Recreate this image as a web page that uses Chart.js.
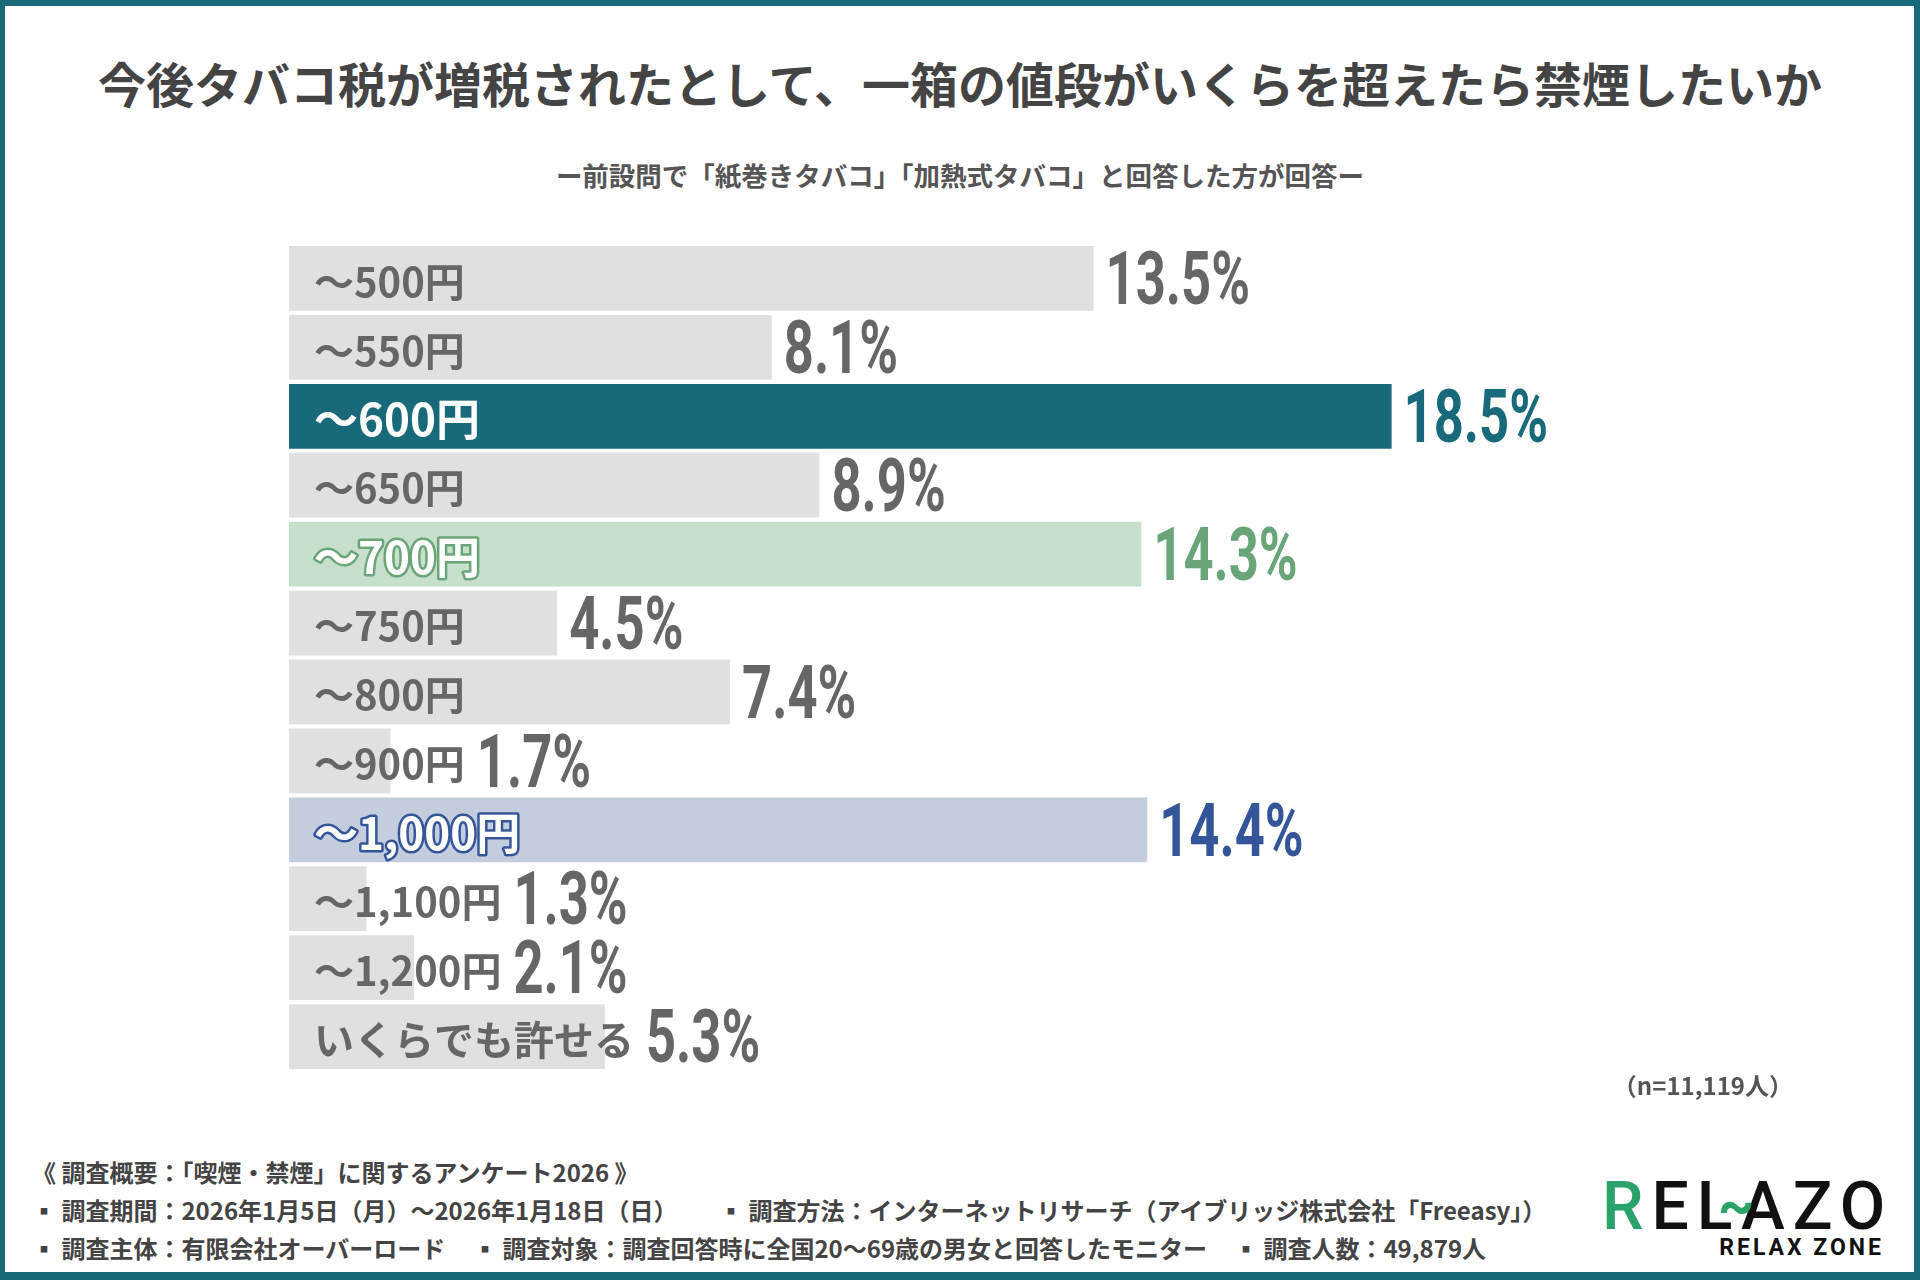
<!DOCTYPE html>
<html lang="ja">
<head>
<meta charset="utf-8">
<title>タバコ税 増税と禁煙</title>
<script src="https://cdn.jsdelivr.net/npm/chart.js@4.4.1/dist/chart.umd.min.js"></script>
<style>
    html, body { margin: 0; padding: 0; background: #fff; }
    body { width: 1920px; height: 1280px; position: relative; overflow: hidden;
           font-family: "Noto Sans CJK JP", "Noto Sans", sans-serif; font-weight: 700; }
    .frame { position: absolute; left: 0; top: 0; width: 1920px; height: 1280px; box-sizing: border-box;
             border: 6px solid #186a7a; border-bottom-width: 8px; border-left-width: 5px; }
    .title { position: absolute; left: 0; width: 1920px; top: 52px; text-align: center;
             font-size: 48px; color: #444; line-height: 60px; }
    .subtitle { position: absolute; left: 0; width: 1920px; top: 158px; text-align: center;
                font-size: 26.5px; color: #555; line-height: 34px; }
    #chartBox { position: absolute; left: 289px; top: 244px; width: 1490px; height: 827px; }
    .n { position: absolute; right: 127px; top: 1070px; font-size: 24px; color: #555; line-height: 30px; }
    .foot { position: absolute; left: 32px; font-size: 24px; color: #444; line-height: 30px; white-space: nowrap; }
    .logo { position: absolute; left: 1602px; top: 1172px; width: 282px; height: 90px; }
    .logo .big { font-family: Roboto, sans-serif; font-weight: 500; font-size: 66px; line-height: 70px;
                 letter-spacing: 8px; color: #111; white-space: nowrap; }
    .logo .big .r { color: #2aa36a; }
    .logo .wave { position: absolute; left: 116px; top: -2px; font-family: Roboto, sans-serif; font-weight: 700;
                  font-size: 56px; line-height: 70px; color: #2aa36a; }
    .logo .small { position: absolute; right: 0; top: 62px; font-family: Roboto, sans-serif; font-weight: 700;
                   font-size: 23px; letter-spacing: 3px; color: #111; }
</style>
</head>
<body>
<div class="frame"></div>
<div class="title">今後タバコ税が増税されたとして、一箱の値段がいくらを超えたら禁煙したいか</div>
<div class="subtitle">ー前設問で「紙巻きタバコ」「加熱式タバコ」と回答した方が回答ー</div>
<div id="chartBox"><canvas id="priceChart"></canvas></div>
<div class="n">（n=11,119人）</div>
<div class="foot" style="top:1157px">《 調査概要：「喫煙・禁煙」に関するアンケート2026 》</div>
<div class="foot" style="top:1195px">▪ 調査期間：2026年1月5日（月）～2026年1月18日（日）</div>
<div class="foot" style="top:1195px; left:719px">▪ 調査方法：インターネットリサーチ（アイブリッジ株式会社「Freeasy」）</div>
<div class="foot" style="top:1233px">▪ 調査主体：有限会社オーバーロード</div>
<div class="foot" style="top:1233px; left:473px">▪ 調査対象：調査回答時に全国20～69歳の男女と回答したモニター</div>
<div class="foot" style="top:1233px; left:1234px">▪ 調査人数：49,879人</div>
<div class="logo">
    <div class="big"><span class="r">R</span>ELAZO</div>
    <div class="wave">~</div>
    <div class="small">RELAX ZONE</div>
</div>

<script>
const priceLabels = ["～500円", "～550円", "～600円", "～650円", "～700円", "～750円",
    "～800円", "～900円", "～1,000円", "～1,100円", "～1,200円", "いくらでも許せる"];
const shareValues = [13.5, 8.1, 18.5, 8.9, 14.3, 4.5, 7.4, 1.7, 14.4, 1.3, 2.1, 5.3];
const axisMax = 25;

// highlighted rows by index
const styles = {
    normal: { bar: "#e0e0e0", text: "#666666", stroke: null, value: "#666666", size: 40 },
    teal:   { bar: "#186a7a", text: "#ffffff", stroke: null, value: "#186a7a", size: 44 },
    green:  { bar: "#c6e0cc", text: "#ffffff", stroke: "#6aa57a", value: "#6aa57a", size: 44 },
    blue:   { bar: "#c4cddd", text: "#ffffff", stroke: "#34559a", value: "#34559a", size: 44 }
};
const highlightRows = { 2: "teal", 4: "green", 8: "blue" };
function rowStyle(i) { return styles[highlightRows[i] || "normal"]; }

const labelPlugin = {
    id: "barLabels",
    afterDatasetsDraw(chart) {
        const ctx = chart.ctx;
        const meta = chart.getDatasetMeta(0);
        meta.data.forEach(function (bar, i) {
            const st = rowStyle(i);
            const cy = bar.y;
            ctx.save();
            ctx.font = "700 " + st.size + "px 'Noto Sans CJK JP'";
            ctx.textBaseline = "middle";
            ctx.textAlign = "left";
            const text = chart.data.labels[i];
            const tx = bar.base + 25;
            if (st.stroke) {
                ctx.lineJoin = "round";
                ctx.lineWidth = 5;
                ctx.strokeStyle = st.stroke;
                ctx.strokeText(text, tx, cy + 3);
            }
            ctx.fillStyle = st.text;
            ctx.fillText(text, tx, cy + 3);
            const labelEnd = tx + ctx.measureText(text).width;
            ctx.restore();

            const vx = Math.max(bar.x, labelEnd) + 12;
            ctx.save();
            ctx.translate(vx, cy + 7);
            ctx.scale(0.7, 1);
            ctx.font = "700 75px Roboto";
            ctx.textBaseline = "middle";
            ctx.textAlign = "left";
            ctx.fillStyle = st.value;
            ctx.fillText(shareValues[i].toFixed(1) + "%", 0, 0);
            ctx.restore();
        });
    }
};

new Chart(document.getElementById("priceChart"), {
    type: "bar",
    data: {
        labels: priceLabels,
        datasets: [
            {
                data: shareValues,
                backgroundColor: shareValues.map(function (v, i) { return rowStyle(i).bar; }),
                borderWidth: 0,
                barPercentage: 0.94,
                categoryPercentage: 1
            }
        ]
    },
    options: {
        indexAxis: "y",
        responsive: true,
        maintainAspectRatio: false,
        animation: false,
        layout: { padding: 0 },
        plugins: {
            legend: { display: false },
            tooltip: { enabled: false }
        },
        scales: {
            x: { display: false, min: 0, max: axisMax },
            y: { display: false }
        }
    },
    plugins: [labelPlugin]
});
</script>
</body>
</html>
